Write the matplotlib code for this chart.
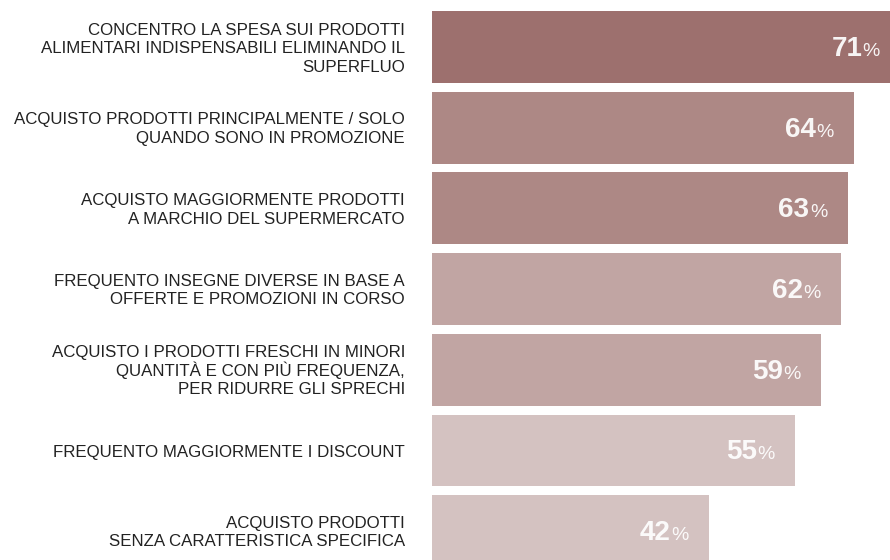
import matplotlib.pyplot as plt

labels = [
    "CONCENTRO LA SPESA SUI PRODOTTI\nALIMENTARI INDISPENSABILI ELIMINANDO IL\nSUPERFLUO",
    "ACQUISTO PRODOTTI PRINCIPALMENTE / SOLO\nQUANDO SONO IN PROMOZIONE",
    "ACQUISTO MAGGIORMENTE PRODOTTI\nA MARCHIO DEL SUPERMERCATO",
    "FREQUENTO INSEGNE DIVERSE IN BASE A\nOFFERTE E PROMOZIONI IN CORSO",
    "ACQUISTO I PRODOTTI FRESCHI IN MINORI\nQUANTITÀ E CON PIÙ FREQUENZA,\nPER RIDURRE GLI SPRECHI",
    "FREQUENTO MAGGIORMENTE I DISCOUNT",
    "ACQUISTO PRODOTTI\nSENZA CARATTERISTICA SPECIFICA",
]
values = [71, 64, 63, 62, 59, 55, 42]
colors = ["#9d706e", "#ad8885", "#ad8885", "#c1a5a3", "#c1a5a3", "#d4c2c1", "#d4c2c1"]

plt.rcParams["font.family"] = ["Liberation Sans", "DejaVu Sans"]

fig = plt.figure(figsize=(8.9, 5.6), dpi=100)
ax = fig.add_axes([432 / 890, 0, 1 - 432 / 890, 1])

ypos = list(range(len(values)))
ax.barh(ypos, values, height=0.89, color=colors)
ax.set_xlim(0, 69.4)
ax.set_ylim(6.357, -0.582)
ax.axis("off")

line_step = 0.229
for y, v, lab in zip(ypos, values, labels):
    # category text to the left of the bar, one line at a time so that
    # accented capitals don't push the spacing around
    rows = lab.split("\n")
    for i, row in enumerate(rows):
        yl = y + (i - (len(rows) - 1) / 2) * line_step
        ax.text(-4.1, yl + 0.075, row, ha="right", va="baseline",
                fontsize=12.2, color="#222222", clip_on=False)
    # value near the bar end, "%" set smaller right after the number
    ax.text(v - 5.8, y + 0.11, str(v), ha="right", va="baseline",
            fontsize=20, fontweight="bold", color="white", alpha=0.93)
    ax.annotate("%", xy=(v - 5.8, y + 0.11), xytext=(0.3, 0),
                textcoords="offset points", ha="left", va="baseline",
                fontsize=14, color="white", alpha=0.93)

fig.savefig("out.png", dpi=100)
